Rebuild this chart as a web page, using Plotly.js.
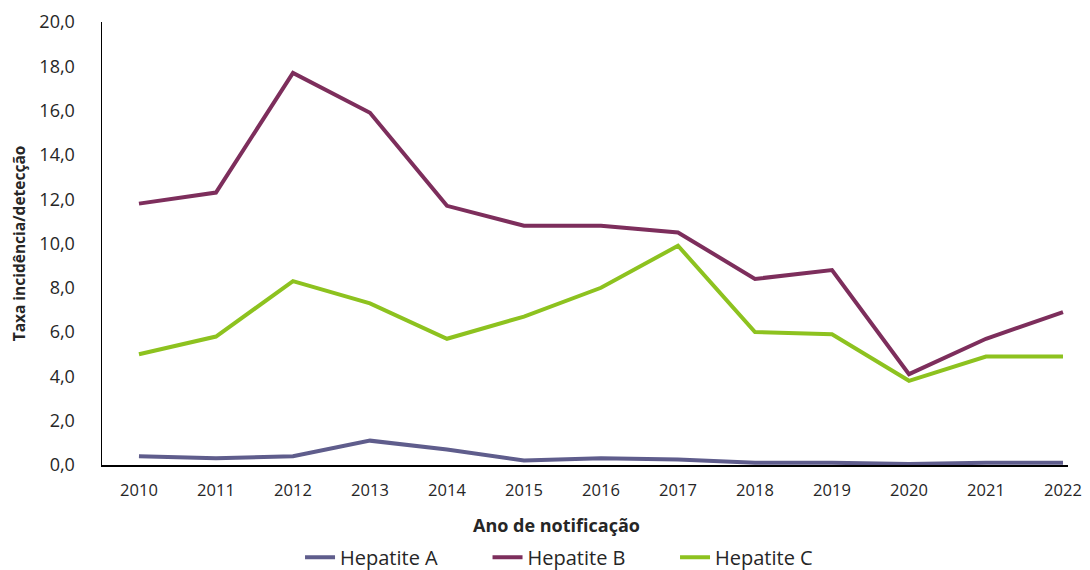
<!DOCTYPE html>
<html>
<head>
<meta charset="utf-8">
<script src="https://cdn.plot.ly/plotly-3.0.1.min.js"></script>
<style>html,body{margin:0;padding:0;background:#fff;}#chart{width:1090px;height:570px;}</style>
</head>
<body>
<div id="chart"></div>
<script>
const years = [2010, 2011, 2012, 2013, 2014, 2015, 2016, 2017, 2018, 2019, 2020, 2021, 2022];
const hepA = [0.4, 0.3, 0.4, 1.1, 0.7, 0.2, 0.3, 0.25, 0.1, 0.1, 0.05, 0.1, 0.1];
const hepB = [11.8, 12.3, 17.7, 15.9, 11.7, 10.8, 10.8, 10.5, 8.4, 8.8, 4.1, 5.7, 6.9];
const hepC = [5.0, 5.8, 8.3, 7.3, 5.7, 6.7, 8.0, 9.9, 6.0, 5.9, 3.8, 4.9, 4.9];
const seriesNames = ['Hepatite A', 'Hepatite B', 'Hepatite C'];
const yTicks = [0, 2, 4, 6, 8, 10, 12, 14, 16, 18, 20];
const xTitle = 'Ano de notificação';
const yTitle = 'Taxa incidência/detecção';

const colors = ['#5f5d8c', '#7d2e5c', '#8dc21f'];
const font = '"Open Sans", "Noto Sans", sans-serif';
const txt = '#262626';

const traces = [hepA, hepB, hepC].map((v, i) => ({
  x: years, y: v, name: seriesNames[i], type: 'scatter', mode: 'lines',
  line: {color: colors[i], width: 4}
}));

const layout = {
  width: 1090, height: 570,
  margin: {l: 102, r: 22, t: 22, b: 105, autoexpand: false},
  paper_bgcolor: '#fff', plot_bgcolor: '#fff',
  separators: ',.',
  font: {family: font, color: txt},
  showlegend: true,
  legend: {orientation: 'h', x: 0.205, xanchor: 'left', y: -0.208, yanchor: 'middle',
           font: {size: 20, color: txt}, entrywidth: 142.5, entrywidthmode: 'pixels',
           traceorder: 'normal'},
  xaxis: {
    range: [2009.52, 2022.065], tickvals: years, ticktext: years.map(String),
    showgrid: false, zeroline: false, showline: true, linecolor: '#000', linewidth: 1.5,
    ticks: '', ticklabelstandoff: 10, tickfont: {size: 16.5, color: txt}, automargin: false
  },
  yaxis: {
    range: [0, 20], tickvals: yTicks, tickformat: '.1f',
    showgrid: false, zeroline: false, showline: true, linecolor: '#000', linewidth: 1.5,
    ticks: '', ticklabelstandoff: 22, tickfont: {size: 18, color: txt}, automargin: false,
    title: {text: '<b>' + yTitle + '</b>', font: {size: 15.5, color: txt}, standoff: 10}
  },
  annotations: [{
    text: '<b>' + xTitle + '</b>', xref: 'paper', yref: 'paper', x: 0.471, y: -0.135,
    xanchor: 'center', yanchor: 'middle', showarrow: false, font: {size: 18, color: txt}
  }]
};

Plotly.newPlot('chart', traces, layout, {displayModeBar: false, staticPlot: true});
</script>
</body>
</html>
